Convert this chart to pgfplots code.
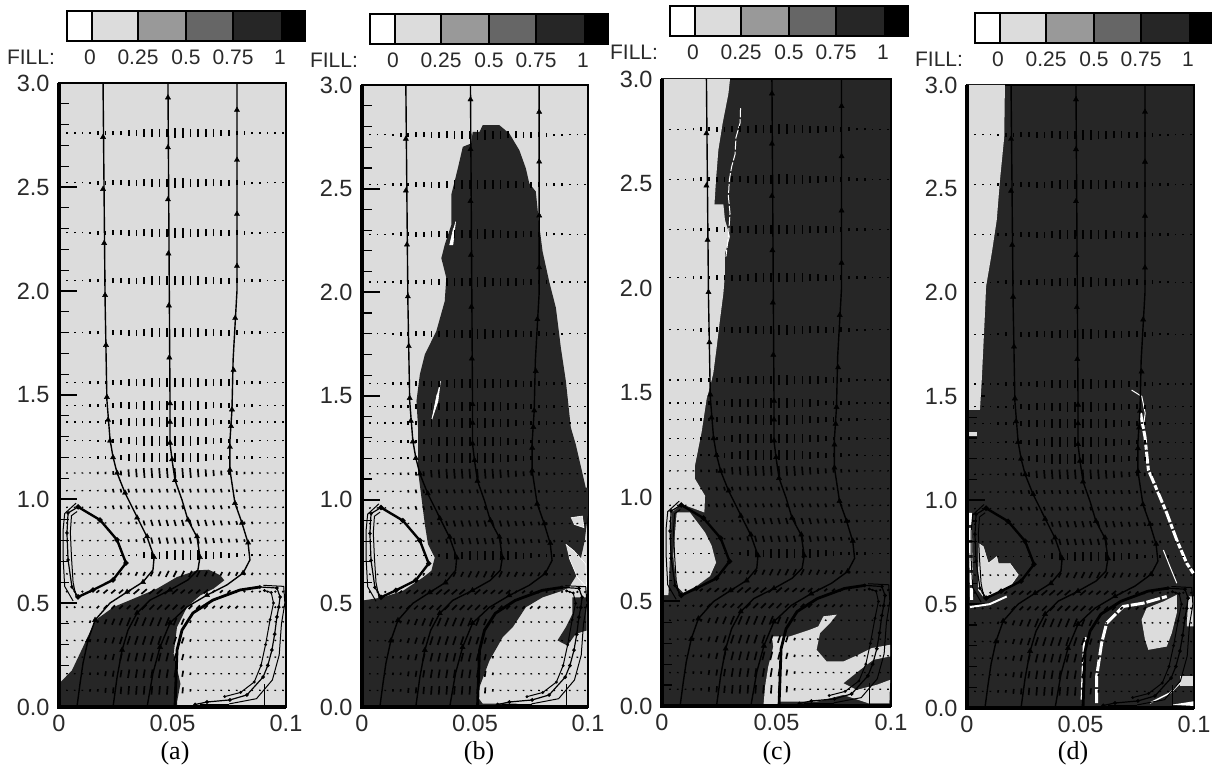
\documentclass[border=0pt]{standalone}
\usepackage{pgfplots}
\usepackage{pgfplotstable}
\usepackage{fontspec}
\pgfplotsset{compat=1.18}
\setmainfont{Liberation Sans}
\newfontfamily\capfont{Liberation Serif}
\definecolor{lt}{HTML}{DCDCDC}
\definecolor{dk}{HTML}{262626}
\definecolor{tx}{HTML}{2A2A2A}
% velocity magnitude (pixels) per column, for the groups of rows
\pgfplotstableread{
x A B C D E F G H I
.0035 1 1 1 1 1 1 1 1 1
.0069 1 1 1 1 1 1 1 1 1
.0103 1 1 1 1 1 1 1 1 1
.0137 2 2 1 1 1 1 1 1 2
.0171 3 2 2 1 1 1 1 2 2
.0205 3 3 2 2 1 1 1 3 4
.0239 4 4 3 3 1 1 1 3 5
.0273 4 5 4 3 1 1 2 3 6
.0307 5 6 6 3 2 1 2 3 7
.0341 5 6 7 3 2 2 3 4 7
.0375 6 7 8 3 4 5 3 4 7
.0409 7 7 8 3 5 6 4 4 7
.0443 7 8 8 3 5 6 4 4 7
.0477 7 8 8 3 5 7 5 4 7
.0511 8 8 8 3 5 8 5 4 6
.0545 8 8 8 3 5 8 5 3 5
.0579 7 7 8 3 5 8 5 3 2
.0613 7 7 7 3 5 8 5 3 1
.0647 6 6 6 3 5 7 4 3 1
.0681 6 5 5 3 4 6 4 2 1
.0715 5 4 4 3 4 5 3 2 1
.0749 5 4 3 2 3 4 3 2 1
.0783 4 3 3 2 3 3 3 2 1
.0817 3 3 2 2 2 2 2 1 1
.0851 2 2 2 1 2 2 2 1 1
.0885 2 1 1 1 1 2 1 1 1
.0919 1 1 1 1 1 1 1 1 1
.0953 1 1 1 1 1 1 1 1 1
.0987 1 1 1 1 1 1 1 1 1
}\vt
\newcommand\vrow[3]{\addplot[black,line width=1.7pt,no markers,forget plot,quiver={u=(#3)*\thisrow{#2}*0.00044,v=\thisrow{#2}*0.0058}] table[x expr=\thisrow{x}-(#3)*\thisrow{#2}*0.00022,y expr=#1-\thisrow{#2}*0.0029]{\vt};}
\newcommand\vectors{%
\vrow{2.76}{A}{0}\vrow{2.52}{A}{0}\vrow{2.28}{A}{0}\vrow{2.05}{A}{0}\vrow{1.80}{A}{0}\vrow{1.56}{A}{0}%
\vrow{1.45}{B}{0}\vrow{1.37}{B}{0}\vrow{1.28}{C}{0}\vrow{1.20}{C}{0}\vrow{1.125}{C}{-0.1}%
\vrow{1.04}{D}{-0.3}\vrow{.96}{D}{-0.4}\vrow{.885}{E}{-0.35}\vrow{.80}{E}{-0.3}\vrow{.73}{F}{0}%
\vrow{.64}{G}{0.6}\vrow{.555}{H}{1.4}\vrow{.48}{H}{1.2}\vrow{.41}{I}{0.5}\vrow{.32}{I}{0.4}\vrow{.24}{I}{0.3}\vrow{.16}{I}{0.2}\vrow{.08}{I}{0.1}}
\newcommand\streams{%
\addplot[black,line width=1.4pt,no markers] coordinates {(.0194,3)(.0203,1.957)(.0211,1.476)(.0225,1.284)(.0238,1.202)(.0256,1.125)(.0291,1.029)(.0344,.913)(.0388,.817)(.0419,.721)(.0414,.659)(.037,.601)(.03,.553)(.0225,.5)(.0159,.418)(.0128,.322)(.0106,.212)(.0093,.115)(.0079,0)};
\addplot[black,line width=1.4pt,no markers] coordinates {(.048,3)(.0489,1.476)(.0489,1.269)(.0498,1.188)(.0511,1.091)(.0542,.995)(.0568,.899)(.0608,.817)(.0621,.721)(.0612,.659)(.0568,.611)(.0489,.5625)(.0401,.514)(.0344,.452)(.0304,.37)(.0278,.274)(.0256,.144)(.0238,0)};
\addplot[black,line width=1.4pt,no markers] coordinates {(.0784,3)(.0784,2)(.0767,1.67)(.0762,1.43)(.0753,1.28)(.0753,1.14)(.0775,.981)(.0806,.885)(.0833,.788)(.0841,.707)(.0811,.644)(.074,.587)(.0652,.538)(.0564,.481)(.0489,.404)(.0445,.288)(.0414,.163)(.0388,0)};
\addplot[black,line width=2.8pt,no markers] coordinates {(.0511,0)(.052,.274)(.0542,.37)(.059,.452)(.0678,.514)(.0797,.5625)(.0885,.577)};
\addplot[black,line width=1.2pt,mark=*,mark size=1.2pt] coordinates {(.0885,.577)(.096,.572)(.0974,.529)(.0968,.48)(.096,.433)(.095,.35)(.0938,.274)(.092,.2)(.0899,.144)(.0828,.058)(.0753,.034)(.0652,.024)(.06,.012)};
\addplot[black,line width=1pt,mark=*,mark size=.9pt] coordinates {(.0905,.56)(.0935,.55)(.0945,.5)(.093,.42)(.091,.3)(.089,.2)(.086,.12)(.08,.07)(.073,.05)};
\addplot[black,line width=1pt,no markers] coordinates {(.09,.585)(.099,.58)(.0995,.5)(.098,.4)(.097,.25)(.094,.13)(.087,.04)(.075,.015)};
\addplot[black,line width=1pt,no markers] coordinates {(.0905,0)(.0905,.11)};
\addplot[black,line width=2.4pt,mark=*,mark size=1.2pt] coordinates {(.0084,.962)(.0181,.899)(.0256,.803)(.0295,.692)(.0238,.611)(.015,.5625)(.0084,.529)};
\addplot[black,line width=1.2pt,mark=*,mark size=1.1pt] coordinates {(.0084,.529)(.0057,.577)(.004,.707)(.0035,.837)(.004,.933)(.0084,.962)};
\addplot[black,line width=1pt,no markers] coordinates {(.0075,.53)(.0062,.6)(.0055,.72)(.005,.84)(.0055,.92)(.008,.94)};
\addplot[black,line width=1pt,no markers] coordinates {(.0062,.51)(.0025,.58)(.0018,.72)(.0018,.85)(.0025,.93)(.0075,.98)};
\addplot[black,only marks,mark=triangle*,mark size=3pt] coordinates {(.0194,2.74)(.0194,2.49)(.0199,2.23)(.0203,1.98)(.0207,1.74)(.0211,1.49)(.0216,1.38)(.0225,1.28)(.0238,1.2)(.0256,1.125)(.0291,1.03)(.0344,.91)(.0388,.82)(.0419,.72)(.037,.6)(.03,.553)(.0159,.418)(.0128,.32)(.048,2.93)(.048,2.69)(.048,2.44)(.0482,2.18)(.0484,1.93)(.0486,1.68)(.0489,1.46)(.0489,1.37)(.0489,1.27)(.0498,1.19)(.0511,1.09)(.0568,.9)(.0608,.82)(.0621,.72)(.0489,.5625)(.0344,.452)(.0278,.274)(.0784,2.87)(.0784,2.63)(.0784,2.37)(.0784,2.12)(.0776,1.87)(.0769,1.62)(.0762,1.43)(.0758,1.35)(.0753,1.25)(.0753,1.14)(.0775,.98)(.0806,.885)(.0833,.79)(.0811,.644)(.0652,.538)(.0489,.404)(.0445,.288)};
\addplot[black,line width=3pt,no markers] coordinates {(.062,.005)(.075,.005)};
}
\pgfplotsset{pan/.style={scale only axis,anchor=south west,clip=false,xmin=0,xmax=0.1,ymin=0,ymax=3,
 xtick={0,0.05,0.1},xticklabels={0,0.05,0.1},ytick={0,0.5,1,1.5,2,2.5,3},yticklabels={0.0,0.5,1.0,1.5,2.0,2.5,3.0},
 minor y tick num=4,ytick pos=left,xtick pos=bottom,tick align=inside,major tick length=18pt,minor tick length=10pt,
 xtick style={draw=none},ytick style={black,line width=2pt},minor y tick style={black,line width=1.2pt},
 axis line style={black,line width=1.6pt},
 tick label style={font=\fontsize{23.5}{23.5}\selectfont,text=tx},
 xticklabel style={yshift=-5pt},yticklabel style={xshift=-6pt},
 /pgf/number format/assume math mode=true}}
\newcommand\spine{\addplot[black,line width=4pt,no markers] coordinates {(0,3)(0,0)(0.1,0)};}
\newcommand\cbar[2]{\begin{scope}[shift={(#1pt,#2pt)}]
 \foreach \a/\b/\c in {67/92/white,92/138/lt,138/186/black!40,186/233/black!60,233/282/dk,282/305/black}{
  \fill[\c] (\a pt,724pt) rectangle (\b pt,754pt);
  \draw[black,line width=1.2pt] (\a pt,724pt) rectangle (\b pt,754pt);}
 \node[font=\fontsize{21}{21}\selectfont,text=tx] at (31pt,708pt) {FILL:};
 \foreach \p/\t in {90/0,138/0.25,186/0.5,233/0.75,280/1}{\node[font=\fontsize{21}{21}\selectfont,text=tx] at (\p pt,708pt) {\t};}
 \end{scope}}
\begin{document}
\begin{tikzpicture}
\path[use as bounding box] (0pt,0pt) rectangle (1212pt,765pt);
% (a)
\begin{axis}[pan,at={(59pt,58pt)},width=227pt,height=624pt,axis background/.style={fill=lt}]
\addplot[fill=dk,draw=none] coordinates {(0,0)(0,.112)(.0057,.176)(.0109,.296)(.016,.417)(.0241,.481)(.0329,.521)(.0432,.569)(.052,.625)(.0608,.657)(.0659,.66)(.0711,.633)(.0728,.609)(.0681,.569)(.0623,.537)(.0564,.481)(.052,.385)(.0505,.256)(.0535,.112)(.052,.024)(.052,0)};
\vectors
\streams
\spine
\end{axis}
% (b)
\begin{axis}[pan,at={(362pt,58pt)},width=226pt,height=622pt,axis background/.style={fill=lt}]
\addplot[fill=dk,draw=none] coordinates {(0,0)(0,.513)(.0094,.529)(.0182,.561)(.027,.625)(.0307,.657)(.0322,.721)(.0292,.785)(.0278,.881)(.0263,1.01)(.0248,1.138)(.0248,1.218)(.0248,1.348)(.0241,1.476)(.0256,1.604)(.0278,1.7)(.0329,1.813)(.0366,1.957)(.0373,2.07)(.0351,2.165)(.0366,2.229)(.0395,2.325)(.0395,2.47)(.0424,2.598)(.0446,2.702)(.0483,2.718)(.049,2.774)(.052,2.774)(.0534,2.806)(.0608,2.806)(.0652,2.766)(.0696,2.686)(.0725,2.598)(.074,2.526)(.0769,2.486)(.0784,2.325)(.0799,2.197)(.0828,2.053)(.0858,1.925)(.088,1.732)(.0902,1.572)(.0924,1.348)(.0946,1.266)(.099,1.058)(.1,1.058)(.1,.93)(.0985,.8)(.0953,.641)(.0916,.577)(.0887,.561)(.0799,.529)(.0725,.481)(.0667,.385)(.0623,.337)(.0564,.224)(.052,.096)(.0512,.048)(.0534,.016)(.0681,.016)(.0755,0)};
\addplot[fill=dk,draw=none] coordinates {(.0931,.529)(.0994,.529)(.0994,.369)(.0946,.353)(.0909,.296)(.0865,.321)(.0902,.385)(.0931,.449)};
\addplot[fill=lt,draw=white,line width=.6pt] coordinates {(.0902,.785)(.0938,.753)(.099,.689)(.0994,.577)(.0953,.625)(.0916,.721)};
\addplot[fill=lt,draw=white,line width=.6pt] coordinates {(.0924,.913)(.0975,.921)(.0982,.865)(.0938,.881)};
\addplot[fill=white,draw=white,line width=.6pt] coordinates {(.0414,2.341)(.0402,2.229)(.0388,2.229)(.0405,2.309)};
\addplot[fill=white,draw=white,line width=.6pt] coordinates {(.0347,1.572)(.0336,1.476)(.0307,1.38)(.0314,1.412)(.0332,1.508)};
\vectors
\streams
\spine
\end{axis}
% (c)
\begin{axis}[pan,at={(662pt,59pt)},width=229pt,height=627pt,axis background/.style={fill=dk}]
\addplot[fill=lt,draw=none] coordinates {(0,3)(.0297,3)(.029,2.93)(.0265,2.79)(.0246,2.66)(.0236,2.52)(.0229,2.4)(.0268,2.4)(.0275,2.325)(.0297,2.246)(.0275,2.166)(.0275,2.07)(.0268,1.974)(.0253,1.847)(.0239,1.719)(.0224,1.592)(.021,1.528)(.0195,1.47)(.0173,1.311)(.0144,1.151)(.0144,1.087)(.0188,1.006)(.0185,.926)(.0086,.966)(.0042,.926)(.0028,.53)(0,.53)};
\addplot[fill=lt,draw=none] coordinates {(.0064,.926)(.0122,.926)(.0188,.83)(.0217,.766)(.0236,.686)(.021,.622)(.0151,.574)(.0093,.542)(.0064,.574)(.0049,.718)};
\addplot[fill=lt,draw=none] coordinates {(.0479,.333)(.0559,.333)(.0646,.365)(.0683,.381)(.0705,.429)(.0763,.437)(.0734,.397)(.069,.349)(.0675,.269)(.0719,.213)(.0792,.213)(.0857,.245)(.0916,.277)(.0996,.293)(.0996,.237)(.0923,.221)(.0865,.173)(.0792,.109)(.085,.077)(.0937,.101)(.0996,.125)(.0993,.013)(.0901,.013)(.0792,.053)(.0675,.021)(.0515,.021)(.0501,0)(.0443,0)(.045,.093)(.0464,.189)(.0486,.285)};
\addplot[white,line width=1pt,no markers,dash pattern=on 9pt off 2pt] coordinates {(.0343,2.86)(.0341,2.79)(.0323,2.72)(.0319,2.64)(.0304,2.58)(.0294,2.517)(.029,2.437)(.0297,2.357)(.029,2.246)(.0279,2.15)};
\vectors
\streams
\spine
\end{axis}
% (d)
\begin{axis}[pan,at={(967pt,57pt)},width=227pt,height=623pt,axis background/.style={fill=dk}]
\addplot[fill=lt,draw=none] coordinates {(0,3)(.0167,3)(.0164,2.75)(.0145,2.54)(.0131,2.35)(.0109,2.19)(.0084,2.03)(.0079,1.9)(.0072,1.74)(.0065,1.58)(.0057,1.435)(0,1.435)};
\addplot[fill=lt,draw=none] coordinates {(.001,1.31)(.0044,1.31)(.0044,1.33)(.001,1.33)};
\addplot[fill=lt,draw=white,line width=.4pt] coordinates {(.005,.793)(.0072,.777)(.0094,.697)(.0131,.729)(.0138,.697)(.0189,.697)(.0226,.641)(.0189,.585)(.0131,.553)(.0072,.537)(.005,.569)(.005,.681)};
\addplot[white,line width=3pt,no markers,dash pattern=on 12pt off 3pt] coordinates {(.0015,.94)(.0015,.84)(.002,.52)};
\addplot[white,line width=2pt,no markers] coordinates {(.0013,.486)(.01,.5)(.0175,.537)};
\addplot[fill=lt,draw=none] coordinates {(.0924,.545)(.0865,.513)(.0791,.481)(.0769,.425)(.0784,.329)(.0799,.28)(.088,.296)(.0902,.361)(.0924,.457)};
\addplot[fill=lt,draw=none] coordinates {(.0975,.537)(.0997,.537)(.0997,.393)(.0968,.393)};
\addplot[white,line width=2pt,no markers,dash pattern=on 10pt off 2pt] coordinates {(.0505,.04)(.051,.2)(.0515,.32)(.0525,.34)};
\addplot[white,line width=3pt,no markers,dash pattern=on 14pt off 2pt] coordinates {(.0571,.024)(.0571,.152)(.0593,.312)(.0615,.409)(.0689,.489)(.0777,.505)(.088,.537)};
\addplot[white,line width=3pt,no markers,dash pattern=on 12pt off 2pt on 5pt off 2pt] coordinates {(.0762,1.434)(.0784,1.306)(.0799,1.146)(.0843,1.034)(.088,.938)(.0924,.809)(.0968,.697)(.0997,.649)};
\addplot[white,line width=1pt,no markers] coordinates {(.0865,.761)(.0894,.681)(.0924,.601)};
\addplot[white,line width=1pt,no markers] coordinates {(.0725,1.531)(.077,1.5)(.0785,1.42)(.0777,1.355)};
\addplot[fill=lt,draw=none] coordinates {(.0938,.152)(.0997,.152)(.0997,.104)(.0938,.104)};
\addplot[fill=white,draw=none] coordinates {(.0902,.016)(.0997,.032)(.0997,.01)};
\addplot[white,line width=1.5pt,no markers] coordinates {(.0806,.024)(.0894,.072)(.0938,.12)};
\vectors
\streams
\spine
\end{axis}
\cbar{0}{0}
\cbar{303}{-3}
\cbar{603}{5}
\cbar{908}{-2}
\foreach \p/\t in {175/a,479/b,777/c,1073/d}{\node[font=\capfont\fontsize{26}{26}\selectfont,text=black] at (\p pt,12pt) {(\t)};}
\end{tikzpicture}
\end{document}
